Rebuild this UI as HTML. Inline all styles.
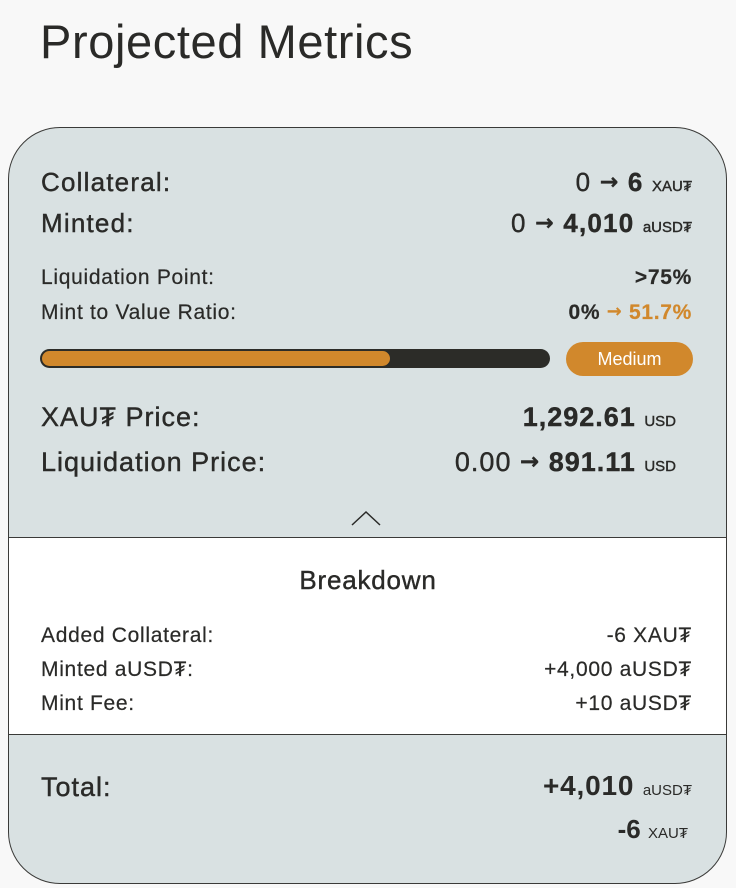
<!DOCTYPE html>
<html><head><meta charset="utf-8"><style>
*{margin:0;padding:0;box-sizing:border-box}
body{width:736px;height:888px;background:#f8f8f8;font-family:"Liberation Sans","DejaVu Sans",sans-serif;color:#2a2a28;position:relative;overflow:hidden}
.t{position:absolute;white-space:nowrap;line-height:1}
.r{right:44px;text-align:right}
.l{left:41px}
.card{position:absolute;left:8px;top:127px;width:719px;height:757px;background:#d9e1e2;border:1.5px solid #3a3a38;border-radius:52px;overflow:hidden}
.white{position:absolute;left:0;right:0;top:409px;height:198px;background:#fff;border-top:1.5px solid #3a3a38;border-bottom:1.5px solid #3a3a38}
b{font-weight:bold}
.s{font-size:15px;letter-spacing:0}
.a{font-family:"DejaVu Sans",sans-serif;font-weight:bold;position:relative;top:-2px;font-size:0.85em}
.big{font-size:26px;letter-spacing:1.2px;-webkit-text-stroke:0.4px #2a2a28}
.sm{font-size:21px;letter-spacing:0.7px;-webkit-text-stroke:0.2px #2a2a28}
.pr{font-size:27px;letter-spacing:1px;-webkit-text-stroke:0.4px #2a2a28}
</style></head><body>
<div class="t" style="left:40px;top:18px;font-size:47px;color:#2a2a28;letter-spacing:0.6px">Projected Metrics</div>
<div class="card"><div class="white"></div></div>

<div class="t l big" style="top:169px">Collateral:</div>
<div class="t r big" style="top:169px">0 <span class="a">→</span> <b>6</b> <span class="s">XAU₮</span></div>
<div class="t l big" style="top:210px">Minted:</div>
<div class="t r big" style="top:210px">0 <span class="a">→</span> <b>4,010</b> <span class="s">aUSD₮</span></div>

<div class="t l sm" style="top:267px">Liquidation Point:</div>
<div class="t r sm" style="top:267px"><b>&gt;75%</b></div>
<div class="t l sm" style="top:302px">Mint to Value Ratio:</div>
<div class="t r sm" style="top:302px"><b>0%</b> <span style="color:#d1882c;-webkit-text-stroke:0.2px #d1882c"><span class="a">→</span> <b>51.7%</b></span></div>

<div style="position:absolute;left:40px;top:349px;width:510px;height:19px;background:#2c2c28;border-radius:10px"></div>
<div style="position:absolute;left:42px;top:351px;width:348px;height:15px;background:#d1882c;border-radius:8px"></div>
<div style="position:absolute;left:566px;top:342px;width:127px;height:34px;background:#d1882c;border-radius:17px;color:#fff;font-size:18px;text-align:center;line-height:34px">Medium</div>

<div class="t l pr" style="top:404px">XAU₮ Price:</div>
<div class="t pr" style="right:60px;top:404px"><b>1,292.61</b> <span class="s">USD</span></div>
<div class="t l pr" style="top:449px">Liquidation Price:</div>
<div class="t pr" style="right:60px;top:449px">0.00 <span class="a">→</span> <b>891.11</b> <span class="s">USD</span></div>

<svg style="position:absolute;left:350px;top:509px" width="32" height="18"><polyline points="2,16 16,3 30,16" fill="none" stroke="#2a2a28" stroke-width="1.5"/></svg>

<div class="t" style="left:0;width:736px;text-align:center;top:567px;font-size:26px;letter-spacing:0.8px;-webkit-text-stroke:0.4px #2a2a28">Breakdown</div>
<div class="t l sm" style="top:625px">Added Collateral:</div>
<div class="t r sm" style="top:625px">-6 XAU₮</div>
<div class="t l sm" style="top:659px">Minted aUSD₮:</div>
<div class="t r sm" style="top:659px">+4,000 aUSD₮</div>
<div class="t l sm" style="top:693px">Mint Fee:</div>
<div class="t r sm" style="top:693px">+10 aUSD₮</div>

<div class="t l pr" style="top:774px">Total:</div>
<div class="t r" style="top:772px;font-size:28px;letter-spacing:0.8px"><b>+4,010</b> <span class="s">aUSD₮</span></div>
<div class="t" style="right:48px;top:816px;font-size:26px"><b>-6</b> <span class="s">XAU₮</span></div>
</body></html>
